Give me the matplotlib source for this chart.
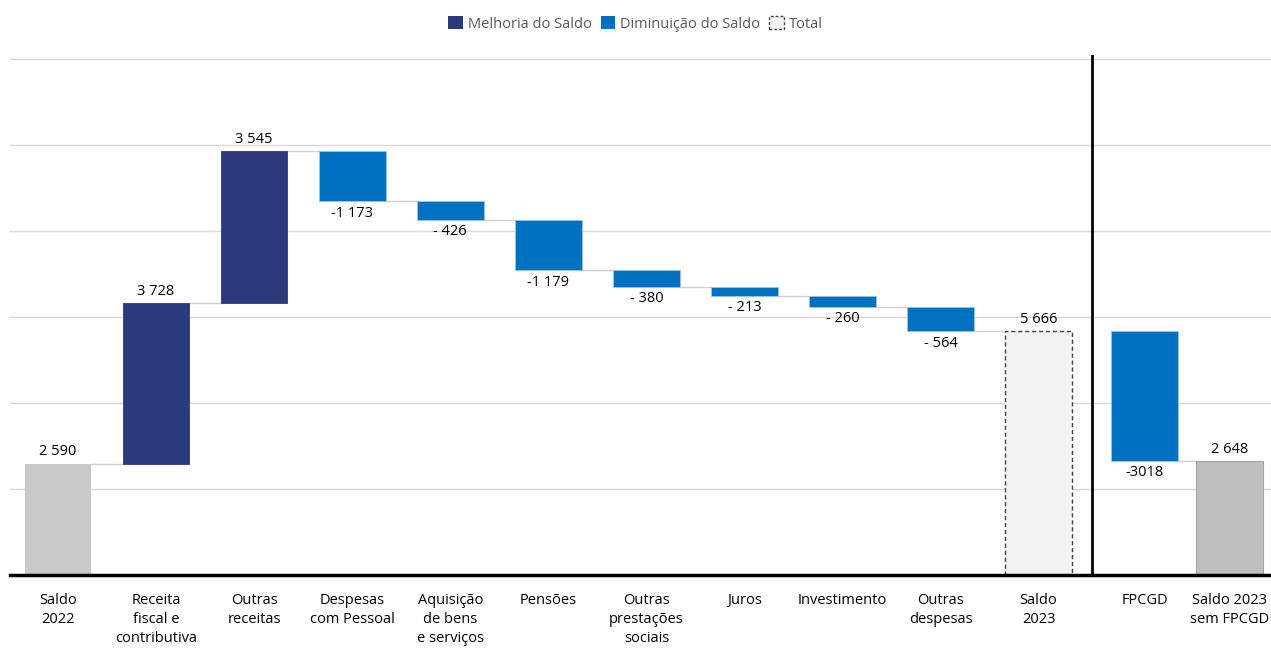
import matplotlib.pyplot as plt
from matplotlib.patches import Patch

plt.rcParams['font.family'] = ['Open Sans', 'DejaVu Sans']

# dados (milhões de euros)
categorias = ['Saldo\n2022', 'Receita\nfiscal e\ncontributiva', 'Outras\nreceitas',
              'Despesas\ncom Pessoal', 'Aquisição\nde bens\ne serviços', 'Pensões',
              'Outras\nprestações\nsociais', 'Juros', 'Investimento', 'Outras\ndespesas',
              'Saldo\n2023', 'FPCGD', 'Saldo 2023\nsem FPCGD']
variacoes = [2590, 3728, 3545, -1173, -426, -1179, -380, -213, -260, -564, 5666, -3018, 2648]
tipos = ['inicio', 'var', 'var', 'var', 'var', 'var', 'var', 'var', 'var', 'var',
         'total', 'var', 'final']

# posições no eixo x (o painel da direita está ligeiramente afastado)
xpos = [0, 1, 2, 3, 4, 5, 6, 7, 8, 9, 10, 11.08, 11.95]
separador = 10.54

azul_escuro = '#2B3A7B'
azul = '#0070C0'

fig = plt.figure(figsize=(12.71, 6.5), dpi=100)
ax = fig.add_axes([10 / 1271, 75 / 650, 1 - 10 / 1271, 520.3 / 650])
ax.set_xlim(-0.49, 12.37)
ax.set_ylim(0, 12100)

# linhas de grelha
for g in range(2000, 12001, 2000):
    ax.axhline(g, color='#D9D9D9', linewidth=1, zorder=0)

def fmt(v):
    s = f'{abs(v):,}'.replace(',', ' ')
    if v < 0:
        return ('- ' if abs(v) < 1000 else '-') + s
    return s

largura = 0.68
nivel = 0
niveis = []
for i, (x, v, t) in enumerate(zip(xpos, variacoes, tipos)):
    if t in ('inicio', 'total', 'final'):
        base, topo = 0, v
        nivel = v
        if t == 'inicio':
            ax.bar(x, v, width=largura, color='#C9C9C9', zorder=2)
        elif t == 'total':
            ax.bar(x, v, width=largura, color='#F2F2F2', edgecolor='#404040',
                   linestyle=(0, (3, 2)), linewidth=1, zorder=2)
        else:
            ax.bar(x, v, width=largura, color='#BFBFBF', edgecolor='#A6A6A6',
                   linewidth=0.8, zorder=2)
        ax.text(x, topo + 100, fmt(v), ha='center', va='bottom', fontsize=10.5)
    else:
        base = nivel
        nivel = nivel + v
        cor = azul_escuro if v > 0 else azul
        ax.bar(x, v, bottom=base, width=largura, color=cor,
               edgecolor='#9DC3E6' if v < 0 else cor, linewidth=0.6, zorder=2)
        if v > 0:
            ax.text(x, nivel + 100, fmt(v), ha='center', va='bottom', fontsize=10.5)
        else:
            txt = '-3018' if categorias[i] == 'FPCGD' else fmt(v)
            ax.text(x, nivel - 100, txt, ha='center', va='top', fontsize=10.5)
    niveis.append(nivel)

# conectores
for i in range(len(xpos) - 1):
    if xpos[i] < separador < xpos[i + 1]:
        continue
    ax.plot([xpos[i] + largura / 2, xpos[i + 1] - largura / 2], [niveis[i], niveis[i]],
            color='#D0D0D0', linewidth=1, zorder=1)

ax.axvline(separador, color='black', linewidth=2, zorder=3)
ax.axhline(0, color='black', linewidth=2.5, zorder=4, clip_on=False)

for s in ax.spines.values():
    s.set_visible(False)
ax.set_yticks([])
ax.set_xticks(xpos)
ax.set_xticklabels(categorias, fontsize=10.5, linespacing=1.38, va='top')
ax.tick_params(axis='x', length=0, pad=13)

handles = [Patch(facecolor=azul_escuro, label='Melhoria do Saldo'),
           Patch(facecolor=azul, label='Diminuição do Saldo'),
           Patch(facecolor='#F2F2F2', edgecolor='#404040', linestyle=(0, (2, 1.5)),
                 label='Total')]
fig.legend(handles=handles, loc='center', bbox_to_anchor=(0.5, 1 - 24 / 650), ncol=3,
           frameon=False, fontsize=10.5, handlelength=1.0, handleheight=1.0,
           handletextpad=0.35, columnspacing=0.6, labelcolor='#595959')

fig.savefig('out.png', dpi=100)
